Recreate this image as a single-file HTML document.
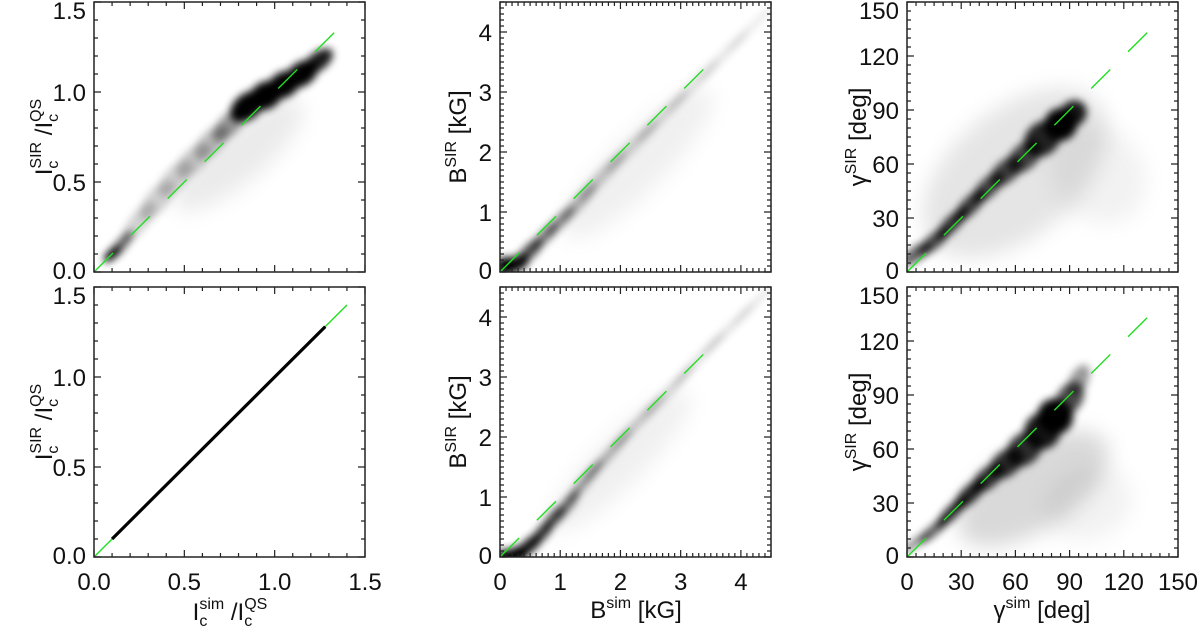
<!DOCTYPE html>
<html><head><meta charset="utf-8"><style>
html,body{margin:0;padding:0;background:#fff}
svg{display:block;font-family:"Liberation Sans","DejaVu Sans",sans-serif}
</style></head><body>
<svg id="fig" width="1200" height="632" viewBox="0 0 1200 632" xmlns="http://www.w3.org/2000/svg">
<defs>
<filter id="blur" x="-20%" y="-20%" width="140%" height="140%"><feGaussianBlur stdDeviation="4"/></filter>
<filter id="blur2" x="-50%" y="-50%" width="200%" height="200%"><feGaussianBlur stdDeviation="10"/></filter>
<clipPath id="c0"><rect x="94" y="2" width="271" height="270"/></clipPath>
<clipPath id="c1"><rect x="500" y="2" width="271" height="270"/></clipPath>
<clipPath id="c2"><rect x="907" y="2" width="271" height="270"/></clipPath>
<clipPath id="c3"><rect x="94" y="287" width="271" height="270"/></clipPath>
<clipPath id="c4"><rect x="500" y="287" width="271" height="270"/></clipPath>
<clipPath id="c5"><rect x="907" y="287" width="271" height="270"/></clipPath>
</defs>
</svg>
<script>
// ---- data (ridge blobs of density clouds: x, y, across-width, darkness) ----
const icTopX=[0.1,0.15,0.25,0.35,0.45,0.55,0.65,0.75,0.85,0.95,1.05,1.15,1.24];
const icTopY=[0.1,0.15,0.28,0.4,0.52,0.62,0.72,0.82,0.92,0.98,1.04,1.1,1.17];
const icTopWid=[0.05,0.06,0.1,0.12,0.12,0.12,0.12,0.11,0.14,0.15,0.14,0.13,0.1];
const icTopOp=[1,0.6,0.18,0.18,0.18,0.2,0.25,0.4,1,1,1,1,0.9];
const icBotX=[0.1,0.4,0.7,1.0,1.28];
const icBotY=[0.1,0.4,0.7,1.0,1.28];
const bTopX=[0.1,0.3,0.5,0.75,1.0,1.3,1.7,2.2,2.7,3.2,3.7,4.2];
const bTopY=[0.1,0.15,0.35,0.6,0.85,1.15,1.6,2.1,2.6,3.1,3.6,4.1];
const bTopWid=[0.3,0.25,0.22,0.2,0.2,0.2,0.2,0.18,0.16,0.15,0.14,0.12];
const bTopOp=[1,0.95,0.7,0.5,0.4,0.3,0.22,0.18,0.15,0.12,0.1,0.08];
const bBotX=[0.1,0.3,0.5,0.7,0.9,1.1,1.4,1.8,2.3,2.8,3.3,3.8,4.3];
const bBotY=[0.0,0.05,0.2,0.4,0.65,0.85,1.25,1.7,2.25,2.75,3.3,3.8,4.3];
const bBotWid=[0.25,0.25,0.22,0.2,0.2,0.18,0.16,0.15,0.14,0.13,0.12,0.12,0.1];
const bBotOp=[1,1,0.9,0.8,0.65,0.55,0.4,0.3,0.22,0.18,0.15,0.12,0.1];
const gTopX=[5,15,25,35,45,55,65,75,85,92];
const gTopY=[10,17,27,37,47,56,64,74,82,88];
const gTopWid=[8,8,8,9,10,12,14,18,18,14];
const gTopOp=[0.6,0.7,0.8,0.75,0.7,0.7,0.7,0.85,1,0.9];
const gBotX=[5,15,25,35,45,55,65,75,82,90,95];
const gBotY=[8,15,25,35,44,52,60,70,78,88,98];
const gBotWid=[5,6,7,9,11,14,17,20,20,14,10];
const gBotOp=[0.4,0.6,0.85,0.85,0.8,0.8,0.8,0.9,1,0.7,0.4];
const lineEnds=[1.4,3.5,140];
const icTicks=["0.0","0.5","1.0","1.5"];
const bTicks=["0","1","2","3","4"];
const gTicks=["0","30","60","90","120","150"];

const NS="http://www.w3.org/2000/svg";
const svg=document.getElementById('fig');
function el(t,a,p){const e=document.createElementNS(NS,t);for(const k in a)e.setAttribute(k,a[k]);(p||svg).appendChild(e);return e;}

const panels=[
 {x:94,y:2,max:1.5,maj:0.5,min:0.1,ticks:icTicks,col:0,row:0,clip:'c0'},
 {x:500,y:2,max:4.5,maj:1,min:0.1,ticks:bTicks,col:1,row:0,clip:'c1'},
 {x:907,y:2,max:150,maj:30,min:5,ticks:gTicks,col:2,row:0,clip:'c2'},
 {x:94,y:287,max:1.5,maj:0.5,min:0.1,ticks:icTicks,col:0,row:1,clip:'c3'},
 {x:500,y:287,max:4.5,maj:1,min:0.1,ticks:bTicks,col:1,row:1,clip:'c4'},
 {x:907,y:287,max:150,maj:30,min:5,ticks:gTicks,col:2,row:1,clip:'c5'}];
const W=271,H=270;
function sx(p,v){return p.x+v/p.max*W;}
function sy(p,v){return p.y+H-v/p.max*H;}

function blobs(p,g,X,Y,Wd,O){
  for(let i=0;i<X.length;i++){
    const a=Math.max(0,i-1),b=Math.min(X.length-1,i+1);
    const dx=sx(p,X[b])-sx(p,X[a]),dy=sy(p,Y[b])-sy(p,Y[a]);
    const ang=Math.atan2(dy,dx)*180/Math.PI;
    const seg=Math.hypot(dx,dy)/(b-a);
    const cx=sx(p,X[i]),cy=sy(p,Y[i]);
    const e=el('ellipse',{cx:cx,cy:cy,rx:seg*0.85,ry:Wd[i]/p.max*W/2,fill:'#000','fill-opacity':O[i],transform:`rotate(${ang} ${cx} ${cy})`},g);
    
    
  }
}
function haze(p,g,x,y,len,wid,op,ang){
  const e=el('ellipse',{cx:sx(p,x),cy:sy(p,y),rx:len/p.max*W/2,ry:wid/p.max*W/2,fill:'#000','fill-opacity':op,transform:`rotate(${ang} ${sx(p,x)} ${sy(p,y)})`,filter:'url(#blur2)'},g);
  
  
}

const names=['ic-top','b-top','gamma-top','ic-bottom','b-bottom','gamma-bottom'];
panels.forEach((p,k)=>{
  const g=el('g',{'clip-path':`url(#${p.clip})`});
  
  
  const gb=el('g',{filter:'url(#blur)'},g);
  if(k==0){haze(p,g,0.8,0.65,0.9,0.3,0.08,-40);blobs(p,gb,icTopX,icTopY,icTopWid,icTopOp);}
  if(k==1){haze(p,g,2.3,1.8,3.4,0.9,0.06,-45);blobs(p,gb,bTopX,bTopY,bTopWid,bTopOp);}
  if(k==2){haze(p,g,60,55,120,70,0.1,-40);haze(p,g,105,55,50,60,0.05,-40);blobs(p,gb,gTopX,gTopY,gTopWid,gTopOp);}
  if(k==4){haze(p,g,2.0,1.6,3.2,0.8,0.06,-45);blobs(p,gb,bBotX,bBotY,bBotWid,bBotOp);}
  if(k==5){haze(p,g,70,38,95,45,0.15,-33);haze(p,g,100,30,50,40,0.05,-20);blobs(p,gb,gBotX,gBotY,gBotWid,gBotOp);}
  const lineMax=lineEnds[p.col];
  const dl=el('line',{x1:sx(p,0),y1:sy(p,0),x2:sx(p,lineMax),y2:sy(p,lineMax),stroke:'#22dd22','stroke-width':1.4,'stroke-dasharray':k==3?'none':'27 25'});
  
  
  if(k==3){
    const pts=icBotX.map((v,i)=>sx(p,v)+','+sy(p,icBotY[i])).join(' ');
    const l=el('polyline',{points:pts,fill:'none',stroke:'#000','stroke-width':3.2});
    
    
  }
  const fr=el('rect',{x:p.x,y:p.y,width:W,height:H,fill:'none',stroke:'#222','stroke-width':1.5});
  
  
  const n=Math.round(p.max/p.min);
  let d='';
  for(let i=0;i<=n;i++){
    const v=i*p.min;const isMaj=Math.abs(v/p.maj-Math.round(v/p.maj))<1e-6;const t=isMaj?7:4;
    const X=sx(p,v),Y=sy(p,v);
    d+=`M${X} ${p.y+H}v${-t}M${X} ${p.y}v${t}M${p.x} ${Y}h${t}M${p.x+W} ${Y}h${-t}`;
  }
  const tk=el('path',{d:d,stroke:'#222','stroke-width':1.2,fill:'none'});
  
  
  p.ticks.forEach(s=>{
    const v=parseFloat(s);
    let Y=sy(p,v)+9;
    if(Math.abs(v-p.max)<1e-6)Y=sy(p,v)+17;
    const t=el('text',{x:p.x-8,y:Math.min(Y,p.y+H+7),'text-anchor':'end','font-size':24,fill:'#111'});
    t.textContent=s;
    
    
    if(p.row==1){
      const tx=el('text',{x:sx(p,v),y:590,'text-anchor':'middle','font-size':24,fill:'#111'});
      tx.textContent=s;
      
      
    }
  });
});

function ytitle(cx,cy,html,name){
  const t=el('text',{x:0,y:0,'text-anchor':'middle','font-size':24,fill:'#111',transform:`translate(${cx} ${cy}) rotate(-90)`});
  t.innerHTML=html;
  
  
}
const icY='I<tspan font-size="16" dy="6">c</tspan><tspan font-size="16" dx="-8" dy="-17">SIR</tspan><tspan dy="11"> /I</tspan><tspan font-size="16" dy="6">c</tspan><tspan font-size="16" dx="-8" dy="-17">QS</tspan>';
ytitle(52,137,icY,'y-axis-title-ic-top');
ytitle(52,422,icY,'y-axis-title-ic-bottom');
const bY='B<tspan font-size="16" dy="-10">SIR</tspan><tspan dy="10"> [kG]</tspan>';
ytitle(466,137,bY,'y-axis-title-b-top');
ytitle(466,422,bY,'y-axis-title-b-bottom');
const gY='γ<tspan font-size="16" dy="-10">SIR</tspan><tspan dy="10"> [deg]</tspan>';
ytitle(866,137,gY,'y-axis-title-gamma-top');
ytitle(866,422,gY,'y-axis-title-gamma-bottom');
function xtitle(cx,y,html,name){
  const t=el('text',{x:cx,y:y,'text-anchor':'middle','font-size':24,fill:'#111'});
  t.innerHTML=html;
  
  
}
xtitle(230,620,'I<tspan font-size="16" dy="6">c</tspan><tspan font-size="16" dx="-8" dy="-17">sim</tspan><tspan dy="11"> /I</tspan><tspan font-size="16" dy="6">c</tspan><tspan font-size="16" dx="-8" dy="-17">QS</tspan>','x-axis-title-ic');
xtitle(636,618,'B<tspan font-size="16" dy="-10">sim</tspan><tspan dy="10"> [kG]</tspan>','x-axis-title-b');
xtitle(1042,618,'γ<tspan font-size="16" dy="-10">sim</tspan><tspan dy="10"> [deg]</tspan>','x-axis-title-gamma');
</script>
</body></html>
